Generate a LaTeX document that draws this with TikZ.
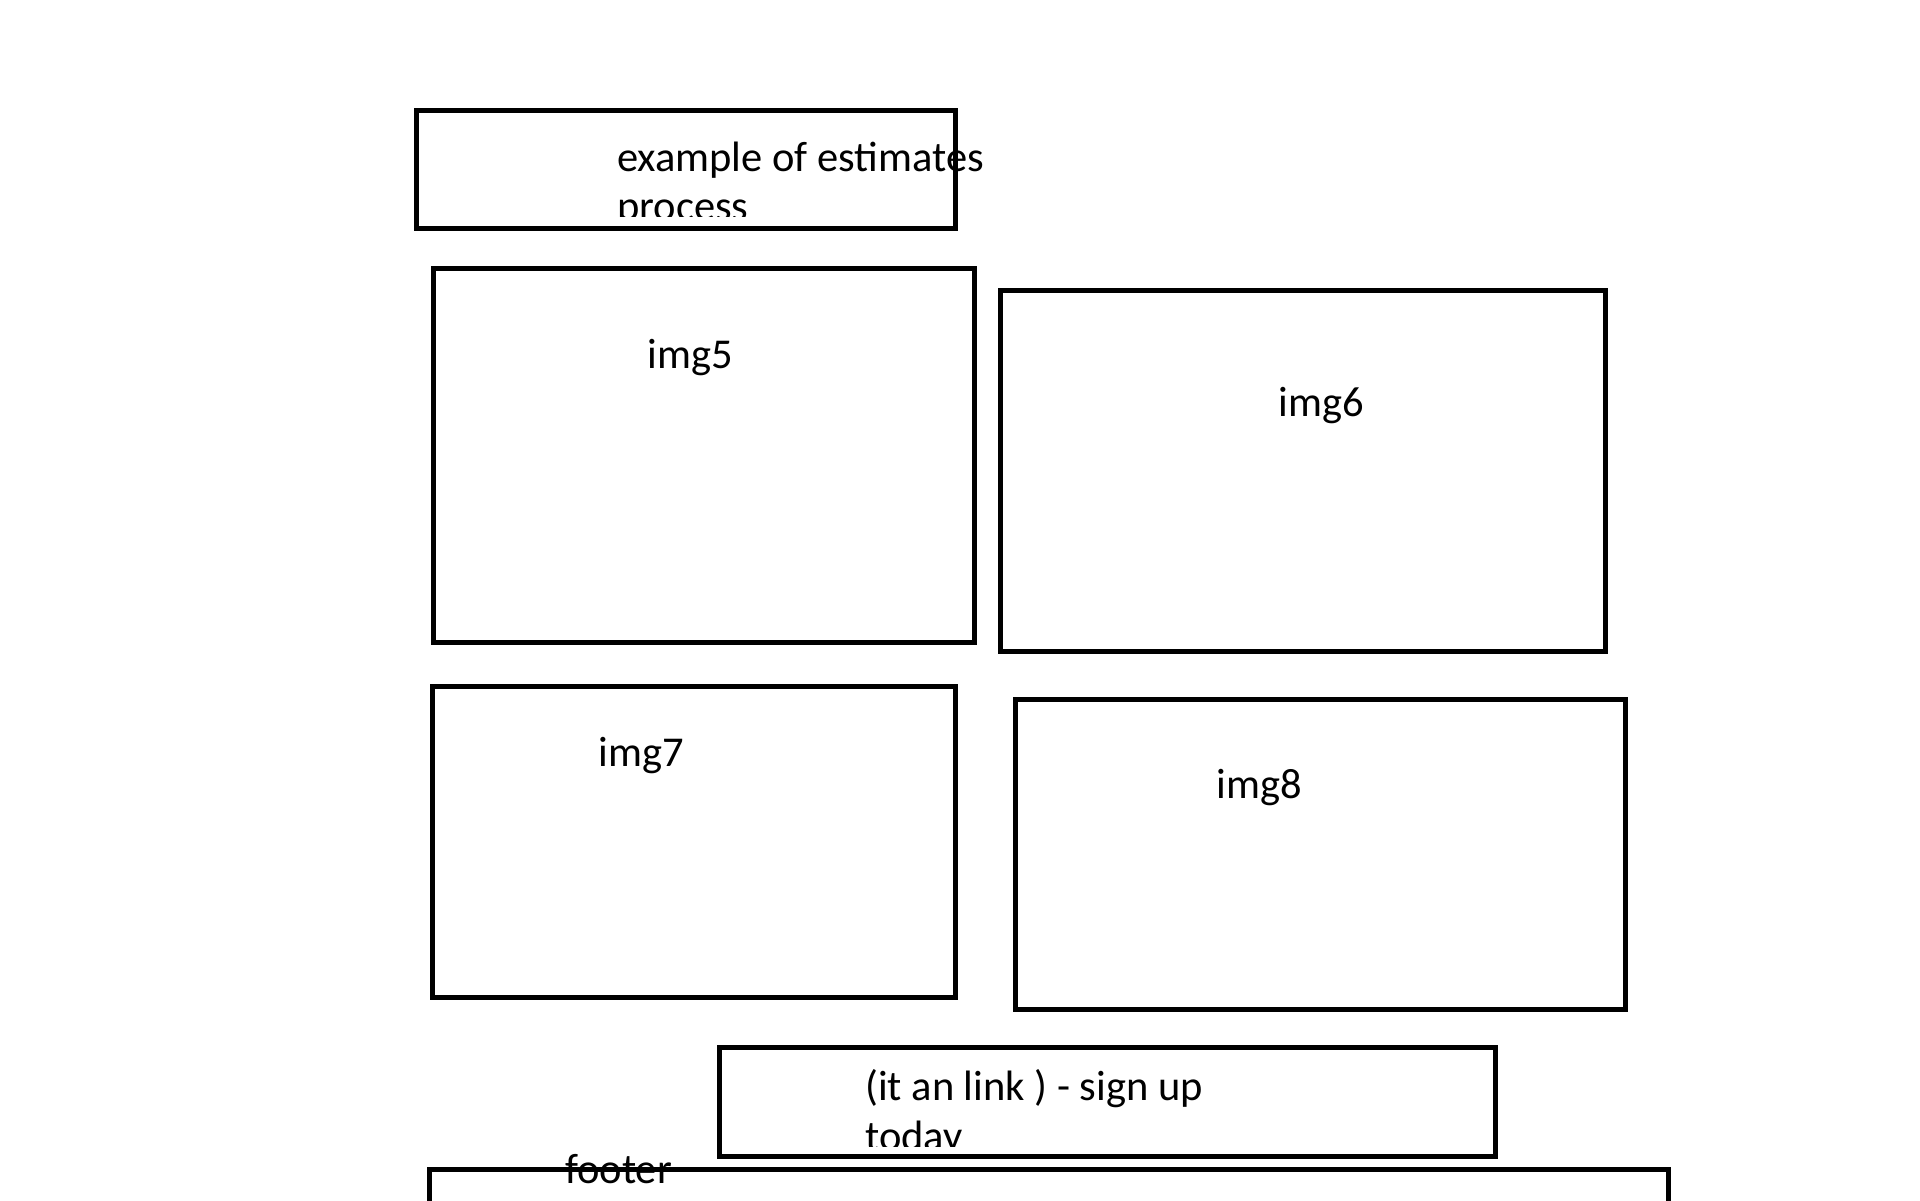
\documentclass[tikz,border=0pt]{standalone}
\usepackage{fontspec}
\setmainfont{Carlito}
\usetikzlibrary{positioning}

\begin{document}
\begin{tikzpicture}[
x=1pt, y=-1pt,
box/.style={draw, line width=5pt, inner sep=0pt},
lbl/.style={inner sep=0pt, font=\fontsize{42.5}{47}\selectfont, align=left}
]
\useasboundingbox (0,0) rectangle (1920,1200);
\fill[white] (0,0) rectangle (1920,1200);
% boxes
\node[box, minimum width=539pt, minimum height=118pt] (title) at (685.5,169) {};
\node[box, minimum width=541pt, minimum height=374pt] (img5) at (703.5,455) {};
\node[box, minimum width=605pt, minimum height=361pt] (img6) at (1302.5,470.5) {};
\node[box, minimum width=523pt, minimum height=311pt] (img7) at (693.5,841.5) {};
\node[box, minimum width=610pt, minimum height=310pt] (img8) at (1320,854) {};
\node[box, minimum width=776pt, minimum height=109pt] (link) at (1107,1101.5) {};
\node[box, minimum width=1239pt, minimum height=80pt] (footer) at (1048.5,1209) {};
% labels
\begin{scope}
\clip (0,112) rectangle (1920,216);
\node[lbl, font=\fontsize{42.5}{48.5}\selectfont, anchor=base west] (titletext) at (617,220) {example of estimates\\process};
\end{scope}
\node[lbl, anchor=base] (img5text) at (690.5,368.5) {img5};
\node[lbl, anchor=base] (img6text) at (1321,416) {img6};
\node[lbl, anchor=base] (img7text) at (641.5,766.5) {img7};
\node[lbl, anchor=base] (img8text) at (1259,798) {img8};
\begin{scope}
\clip (0,1049) rectangle (1920,1146);
\node[lbl, font=\fontsize{42.5}{50}\selectfont, anchor=base west] (linktext) at (865,1150) {(it an link ) - sign up\\today};
\end{scope}
\node[lbl, anchor=base west] (footertext) at (565,1183) {footer};
\end{tikzpicture}
\end{document}
